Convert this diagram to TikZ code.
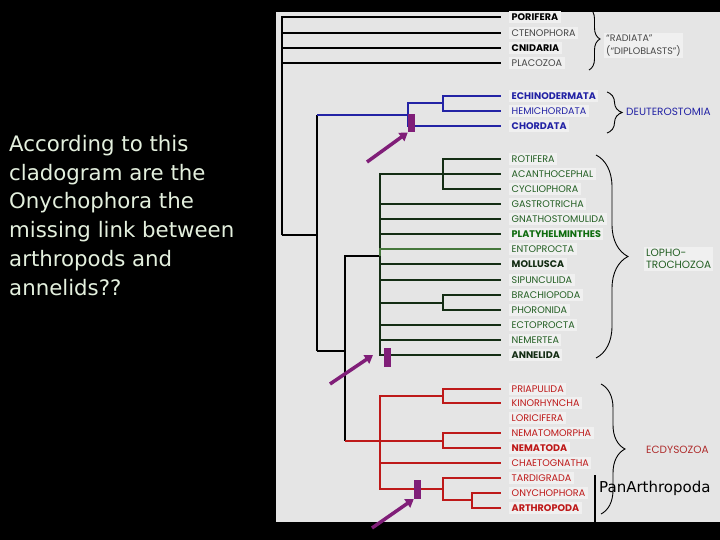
\documentclass[tikz,border=0pt]{standalone}
\usepackage{fontspec}
\setmainfont{Poppins}
\newfontfamily\handfont{DejaVu Sans}
\usepackage{tikz}
\usetikzlibrary{arrows.meta, decorations.pathreplacing}
\definecolor{panel}{RGB}{229,229,229}
\definecolor{tagbg}{RGB}{240,240,240}
\definecolor{greyc}{RGB}{70,70,70}
\definecolor{deutc}{RGB}{35,35,165}
\definecolor{lophc}{RGB}{20,45,20}
\definecolor{lophtext}{RGB}{35,95,35}
\definecolor{entoc}{RGB}{70,120,60}
\definecolor{ecdyc}{RGB}{190,25,25}
\definecolor{ecdytext}{RGB}{175,45,45}
\definecolor{markc}{RGB}{128,30,120}
\definecolor{chalk}{RGB}{228,240,222}

\begin{document}
\begin{tikzpicture}[x=1pt, y=-1pt,
  taxon/.style={anchor=west, inner sep=2.5pt, fill=tagbg,
    font=\fontsize{9.6}{10}\selectfont, text height=6.9pt, text depth=0.3pt},
  boldtaxon/.style={taxon, font=\fontsize{9.6}{10}\selectfont\bfseries},
  branch/.style={line width=2pt},
  tolabel/.style={shorten >=8pt},
  marker/.style={fill=markc, minimum width=7pt, minimum height=18.5pt, inner sep=0pt},
  pointer/.style={markc, line width=3.5pt, -{Triangle[length=8pt, width=10pt]}},
  cladebrace/.style={decorate, decoration={brace, amplitude=#1}, line width=0.9pt},
  group/.style={anchor=west, inner sep=2pt, font=\fontsize{10.5}{12}\selectfont, align=left}]
  \useasboundingbox (0,0) rectangle (720,540);
  \fill[black] (0,0) rectangle (720,540);
  \fill[panel] (276,12) rectangle (720,522);

  \node[boldtaxon] (porifera) at (509,17) {PORIFERA};
  \node[taxon, text=greyc] (cteno) at (509,33) {CTENOPHORA};
  \node[boldtaxon] (cnidaria) at (509,48) {CNIDARIA};
  \node[taxon, text=greyc] (placozoa) at (509,63) {PLACOZOA};
  \node[boldtaxon, text=deutc] (echino) at (509,96) {ECHINODERMATA};
  \node[taxon, text=deutc] (hemi) at (509,111) {HEMICHORDATA};
  \node[boldtaxon, text=deutc] (chordata) at (509,126) {CHORDATA};
  \node[taxon, text=lophtext] (rotifera) at (509,159) {ROTIFERA};
  \node[taxon, text=lophtext] (acanth) at (509,174) {ACANTHOCEPHAL};
  \node[taxon, text=lophtext] (cyclio) at (509,189) {CYCLIOPHORA};
  \node[taxon, text=lophtext] (gastro) at (509,204) {GASTROTRICHA};
  \node[taxon, text=lophtext] (gnatho) at (509,219) {GNATHOSTOMULIDA};
  \node[boldtaxon, text=lophc!70!green] (platy) at (509,234) {PLATYHELMINTHES};
  \node[taxon, text=lophtext] (ento) at (509,249) {ENTOPROCTA};
  \node[boldtaxon, text=lophc] (mollusca) at (509,264) {MOLLUSCA};
  \node[taxon, text=lophtext] (sipun) at (509,280) {SIPUNCULIDA};
  \node[taxon, text=lophtext] (brachio) at (509,295) {BRACHIOPODA};
  \node[taxon, text=lophtext] (phoron) at (509,310) {PHORONIDA};
  \node[taxon, text=lophtext] (ecto) at (509,325) {ECTOPROCTA};
  \node[taxon, text=lophtext] (nemert) at (509,340) {NEMERTEA};
  \node[boldtaxon, text=lophc] (annel) at (509,355) {ANNELIDA};
  \node[taxon, text=ecdyc] (priap) at (509,389) {PRIAPULIDA};
  \node[taxon, text=ecdyc] (kino) at (509,403) {KINORHYNCHA};
  \node[taxon, text=ecdyc] (lorici) at (509,418) {LORICIFERA};
  \node[taxon, text=ecdyc] (nematomo) at (509,433) {NEMATOMORPHA};
  \node[boldtaxon, text=ecdyc] (nematoda) at (509,448) {NEMATODA};
  \node[taxon, text=ecdyc] (chaeto) at (509,463) {CHAETOGNATHA};
  \node[taxon, text=ecdyc] (tardi) at (509,478) {TARDIGRADA};
  \node[taxon, text=ecdyc] (onycho) at (509,493) {ONYCHOPHORA};
  \node[boldtaxon, text=ecdyc] (arthro) at (509,508) {ARTHROPODA};

  \coordinate (base) at (282,235);
  \coordinate (bilat) at (317,235);
  \coordinate (deut) at (408,115);
  \coordinate (ambul) at (443,103);
  \coordinate (proto) at (345,351);
  \coordinate (lopho) at (380,256);
  \coordinate (rotif) at (443,174);
  \coordinate (brach) at (443,303);
  \coordinate (ecdy) at (380,441);
  \coordinate (scalid) at (443,396);
  \coordinate (nemat) at (443,441);
  \coordinate (panarth) at (443,489);
  \coordinate (tacto) at (472,500);

  \foreach \t in {porifera, cteno, cnidaria, placozoa}
    \draw[branch, tolabel] (base) |- (\t.west);
  \draw[branch] (base) -- (bilat);
  \draw[branch] (bilat |- deut) -- (bilat |- proto);
  \draw[branch, deutc] (bilat |- deut) -- (deut) |- (ambul);
  \draw[branch, deutc, tolabel] (deut) |- (chordata.west);
  \draw[branch, deutc, tolabel] (ambul) |- (echino.west);
  \draw[branch, deutc, tolabel] (ambul) |- (hemi.west);

  \draw[branch] (bilat |- proto) -- (proto) |- (lopho);
  \draw[branch] (proto) -- (proto |- ecdy);
  \draw[branch, ecdyc] (proto |- ecdy) -- (nemat);

  \foreach \t in {acanth, gastro, gnatho, platy, mollusca, sipun, ecto, nemert, annel}
    \draw[branch, lophc, tolabel] (lopho) |- (\t.west);
  \draw[line width=1.4pt, entoc, tolabel] (lopho) |- (ento.west);
  \draw[branch, lophc, tolabel] (rotif) |- (rotifera.west);
  \draw[branch, lophc, tolabel] (rotif) |- (cyclio.west);
  \draw[branch, lophc] (lopho) |- (brach);
  \draw[branch, lophc, tolabel] (brach) |- (brachio.west);
  \draw[branch, lophc, tolabel] (brach) |- (phoron.west);

  \draw[branch, ecdyc] (ecdy) |- (scalid);
  \draw[branch, ecdyc, tolabel] (scalid) |- (priap.west);
  \draw[branch, ecdyc, tolabel] (scalid) |- (kino.west);
  \draw[branch, ecdyc, tolabel] (nemat) |- (nematomo.west);
  \draw[branch, ecdyc, tolabel] (nemat) |- (nematoda.west);
  \draw[branch, ecdyc, tolabel] (ecdy) |- (chaeto.west);
  \draw[branch, ecdyc] (ecdy) |- (panarth);
  \draw[branch, ecdyc, tolabel] (panarth) |- (tardi.west);
  \draw[branch, ecdyc] (panarth) |- (tacto);
  \draw[branch, ecdyc, tolabel] (tacto) |- (onycho.west);
  \draw[branch, ecdyc, tolabel] (tacto) |- (arthro.west);

  \node[marker] (deutmark) at (411.5,123) {};
  \node[marker] (annelmark) at (387.5,357.5) {};
  \node[marker] (panmark) at (417.5,489.5) {};
  \coordinate (deuttail) at (367,162);
  \coordinate (anneltail) at (330,384);
  \coordinate (anneltip) at (373,355);
  \coordinate (pantail) at (372,528);
  \draw[pointer] (deuttail) -- (deutmark.south west);
  \draw[pointer] (anneltail) -- (anneltip);
  \draw[pointer] (pantail) -- (panmark.south west);

  \draw[cladebrace=11] (589,8) -- (589,70);
  \draw[cladebrace=15] (607,92) -- (607,133);
  \draw[cladebrace=32] (596,155) -- (596,358);
  \draw[cladebrace=24] (601,384) -- (601,514);

  \node[group, text=greyc, fill=tagbg, font=\fontsize{9.5}{12.5}\selectfont] (radiata) at (604,45.5) {“RADIATA”\\(“DIPLOBLASTS”)};
  \node[group, text=deutc] (deutlabel) at (624,112) {DEUTEROSTOMIA};
  \node[group, text=lophtext, fill=tagbg] (lopholabel) at (644,259) {LOPHO-\\TROCHOZOA};
  \node[group, text=ecdytext] (ecdylabel) at (644,450) {ECDYSOZOA};

  \draw[line width=1.6pt] (595,475) -- (595,522);
  \node[anchor=west, inner sep=1pt, font=\handfont\fontsize{15}{17}\selectfont] (panlabel) at (598,488) {PanArthropoda};

  \node[anchor=north west, inner sep=0pt, align=left, text=chalk,
    font=\handfont\fontsize{21.3}{28.8}\selectfont] (question) at (9,135)
    {According to this\\cladogram are the\\Onychophora the\\missing link between\\arthropods and\\annelids??};
\end{tikzpicture}
\end{document}
